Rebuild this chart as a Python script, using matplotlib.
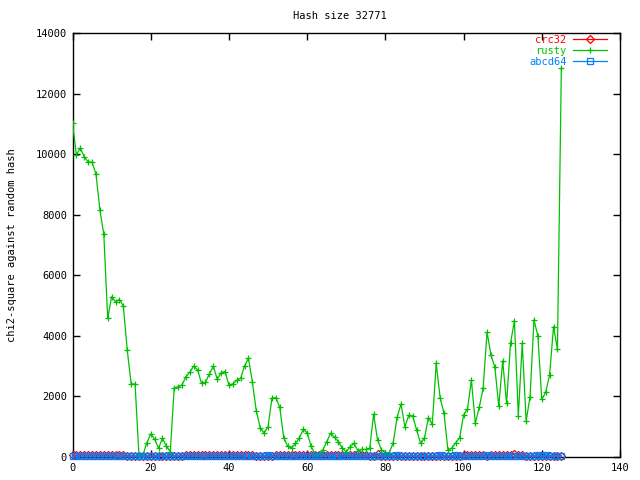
import matplotlib
matplotlib.use('Agg')
import matplotlib.pyplot as plt

x = list(range(126))

rusty = [11030, 9970, 10210, 9910, 9740, 9740, 9340, 8160, 7360, 4580,
         5290, 5130, 5200, 4985, 3530, 2410, 2410, 30, 60, 470,
         760, 590, 290, 620, 360, 175, 2270, 2320, 2380, 2650,
         2800, 3000, 2870, 2430, 2470, 2740, 3000, 2570, 2780, 2820,
         2380, 2410, 2540, 2600, 3010, 3260, 2470, 1520, 970, 790,
         1000, 1940, 1960, 1640, 640, 360, 290, 450, 620, 910,
         800, 360, 100, 100, 230, 500, 780, 650, 505, 290,
         175, 340, 450, 200, 250, 250, 290, 1410, 560, 230,
         140, 140, 470, 1310, 1750, 1000, 1380, 1350, 890, 450,
         620, 1300, 1080, 3090, 1960, 1440, 230, 290, 470, 640,
         1390, 1580, 2540, 1110, 1640, 2270, 4120, 3370, 2960, 1680,
         3170, 1770, 3750, 4500, 1360, 3760, 1190, 1990, 4520, 4000,
         1900, 2140, 2710, 4300, 3560, 12830]

crc32 = [60, 55, 65, 60, 55, 60, 65, 55, 60, 55,
         60, 55, 65, 60, 40, 30, 30, 30, 30, 30,
         30, 30, 30, 30, 30, 30, 30, 30, 30, 60,
         55, 65, 60, 55, 60, 65, 55, 60, 55, 60,
         55, 65, 60, 55, 60, 65, 55, 30, 30, 30,
         30, 30, 60, 55, 65, 60, 55, 60, 65, 55,
         60, 55, 65, 60, 55, 60, 65, 55, 60, 55,
         60, 55, 65, 90, 55, 60, 30, 30, 90, 30,
         30, 30, 30, 30, 30, 30, 30, 30, 30, 30,
         30, 30, 30, 30, 30, 30, 30, 30, 30, 30,
         60, 55, 65, 60, 55, 60, 30, 60, 55, 65,
         60, 55, 65, 90, 55, 60, 30, 30, 30, 30,
         30, 30, 30, 30, 30, 30]

abcd64 = [30, 30, 30, 30, 30, 30, 30, 30, 30, 30,
          30, 30, 30, 30, 30, 30, 30, 30, 30, 30,
          30, 30, 30, 30, 30, 30, 30, 30, 30, 30,
          30, 30, 30, 30, 30, 30, 30, 30, 30, 30,
          30, 30, 30, 30, 30, 30, 30, 30, 30, 30,
          80, 30, 30, 30, 30, 30, 30, 30, 30, 30,
          30, 30, 30, 30, 30, 30, 30, 30, 30, 30,
          30, 30, 30, 30, 30, 30, 30, 30, 30, 30,
          30, 30, 30, 80, 30, 30, 30, 30, 30, 30,
          30, 30, 30, 30, 80, 30, 30, 30, 80, 30,
          30, 30, 30, 30, 30, 30, 80, 30, 30, 30,
          30, 30, 30, 30, 30, 30, 30, 30, 30, 80,
          30, 80, 30, 30, 30, 30]

xticks = [0, 20, 40, 60, 80, 100, 120, 140]
yticks = [0, 2000, 4000, 6000, 8000, 10000, 12000, 14000]

FONT = 'DejaVu Sans Mono'
FS = 7.5

fig = plt.figure(figsize=(6.4, 4.8), dpi=100)
ax = fig.add_axes([72.5 / 640, 23 / 480, 547.5 / 640, 424 / 480])

l1, = ax.plot(x, crc32, color='#ff0000', lw=0.9, marker='D', ms=4.2,
              mfc='none', mew=0.9, label='crc32', clip_on=False, zorder=3)
l2, = ax.plot(x, rusty, color='#00c000', lw=0.9, marker='+', ms=5,
              mew=0.9, label='rusty', zorder=3)
l3, = ax.plot(x, abcd64, color='#0080ff', lw=0.9, marker='s', ms=5,
              mfc='none', mew=0.9, label='abcd64', clip_on=False, zorder=3)

ax.set_xlim(0, 140)
ax.set_ylim(0, 14000)
ax.set_xticks(xticks)
ax.set_yticks(yticks)
ax.set_xticklabels([str(v) for v in xticks], fontfamily=FONT, fontsize=FS)
ax.set_yticklabels([str(v) for v in yticks], fontfamily=FONT, fontsize=FS)
ax.tick_params(direction='in', top=True, right=True, length=5, width=1, pad=4)
for s in ax.spines.values():
    s.set_linewidth(1)
    s.set_zorder(2)

fig.text(340 / 640, 1 - 16 / 480, 'Hash size 32771', ha='center', va='center',
         fontfamily=FONT, fontsize=FS)
fig.text(12 / 640, 1 - 245 / 480, 'chi2-square against random hash',
         rotation=90, ha='center', va='center', fontfamily=FONT, fontsize=FS)

leg = ax.legend(handles=[l1, l2, l3], loc='upper right',
                bbox_to_anchor=(607 / 640, 1 - 35 / 480),
                bbox_transform=fig.transFigure, frameon=False,
                markerfirst=False, numpoints=1, handlelength=3.3,
                handletextpad=0.6, labelspacing=0.1, borderpad=0,
                borderaxespad=0, prop={'family': FONT, 'size': FS})
for t, c in zip(leg.get_texts(), ['#ff0000', '#00c000', '#0080ff']):
    t.set_color(c)

fig.savefig('out.png', dpi=100)
